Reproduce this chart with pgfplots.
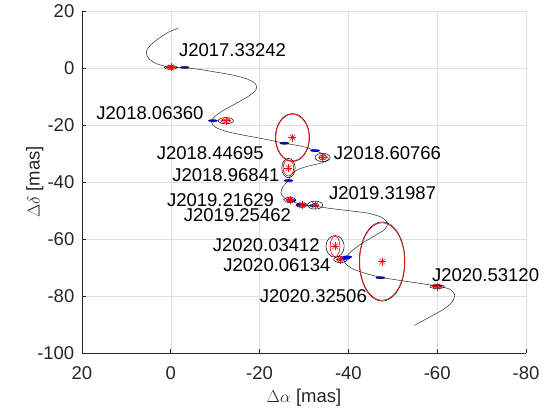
\documentclass[border=0pt]{standalone}
\usepackage{fontspec}
\setmainfont{Liberation Sans}
\usepackage{pgfplots}
\pgfplotsset{compat=1.18}
\usepackage{pgfplotstable}

\definecolor{axgray}{RGB}{38,38,38}
\definecolor{gridgray}{RGB}{224,224,224}
\definecolor{mblue}{RGB}{0,0,255}
\definecolor{mred}{RGB}{255,0,0}

\newcommand{\lblfont}{\fontsize{18.5bp}{22bp}\selectfont}

\pgfdeclareplotmark{ell}{%
  \pgfpathellipse{\pgfpointorigin}{\pgfpoint{\rxx bp}{0bp}}{\pgfpoint{0bp}{\ryy bp}}%
  \pgfusepathqstroke}
\pgfdeclareplotmark{ellf}{%
  \pgfpathellipse{\pgfpointorigin}{\pgfpoint{4.6bp}{0bp}}{\pgfpoint{0bp}{1.2bp}}%
  \pgfusepathqfillstroke}

% observations: red centre, red error ellipse, black ellipse
\pgfplotstableread{
x      y      rxr   ryr   rxk   ryk
0.0    0.2    1.0   0.4   1.5   0.65
-12.4  -18.5  1.1   0.6   1.7   1.1
-27.4  -24.4  3.75  8.2   3.85  8.4
-34.2  -31.4  0.9   0.8   1.7   1.45
-26.5  -35.1  1.2   2.8   1.5   3.4
-26.8  -46.3  0.8   0.5   1.4   0.9
-29.5  -48.1  0.9   0.7   1.3   0.8
-32.5  -48.1  0.8   0.6   1.7   1.4
-37.0  -62.6  1.1   3.6   2.05  3.8
-38.2  -67.2  0.9   0.6   1.5   1.05
-47.6  -67.9  5.05  13.6  5.15  13.9
-60.0  -76.7  1.1   0.5   1.6   0.7
}\obs

% model positions
\pgfplotstableread{
x      y
-3.1   0.2
-9.5   -18.5
-25.6  -26.4
-32.5  -29.0
-26.5  -39.5
-27.1  -46.5
-29.2  -48.1
-32.2  -48.3
-39.8  -66.3
-39.3  -66.8
-47.2  -73.6
-60.0  -76.5
}\model

\begin{document}
\begin{tikzpicture}
\begin{axis}[
  name=ax,
  scale only axis, width=444bp, height=342bp,
  xmin=-80, xmax=20, ymin=-100, ymax=20,
  x dir=reverse,
  xtick={-80,-60,...,20}, ytick={-100,-80,...,20},
  axis x line*=bottom, axis y line*=left,
  grid=major, major grid style={draw=gridgray, line width=0.5bp},
  axis line style={draw=axgray, line width=0.6bp},
  major tick length=4.5bp, tick style={draw=axgray, line width=0.6bp},
  tick align=inside,
  /pgf/number format/assume math mode=true,
  ticklabel style={font=\lblfont, text=axgray, inner sep=0pt},
  xticklabel style={anchor=north, yshift=-13bp},
  yticklabel style={anchor=east, xshift=-7.5bp},
  xlabel={$\Delta\alpha$ [mas]}, ylabel={$\Delta\delta$ [mas]},
  xlabel style={at={(axis description cs:0.5,-0.1316)}, anchor=center, font=\lblfont, text=axgray},
  ylabel style={at={(axis description cs:-0.106,0.5)}, anchor=center, font=\lblfont, text=axgray},
  clip=false,
]
% apparent track
\addplot[black!85, line width=0.5bp, smooth, tension=0.5, mark=none] coordinates {
(-1.6,13.9) (0.5,12.6) (2.5,10.6) (4.4,8.3) (5.5,5.8) (5.0,3.4) (3.2,1.5) (0.0,0.2)
(-3.1,0.1) (-6.5,-0.5) (-10.0,-1.4) (-14.0,-2.5) (-17.3,-3.9) (-19.1,-5.6) (-19.2,-7.6)
(-17.6,-9.8) (-14.6,-12.5) (-11.5,-15.2) (-9.6,-17.5) (-9.2,-19.2) (-10.2,-20.9)
(-12.6,-22.3) (-16.5,-23.6) (-21.0,-24.9) (-25.6,-26.4) (-29.6,-27.5) (-32.5,-29.0)
(-34.8,-30.6) (-35.5,-32.0) (-34.0,-33.3) (-31.0,-34.4) (-28.4,-35.8) (-27.0,-37.6)
(-26.5,-39.5) (-25.3,-41.6) (-24.8,-43.7) (-25.5,-45.5) (-27.0,-46.5) (-29.2,-47.8)
(-32.2,-48.4) (-36.0,-49.3) (-40.3,-50.1) (-44.3,-50.9) (-47.3,-52.3) (-48.8,-54.4)
(-48.2,-56.6) (-46.0,-58.8) (-43.3,-61.3) (-41.0,-63.9) (-39.5,-66.2) (-39.1,-68.0)
(-40.5,-70.1) (-43.5,-71.9) (-47.2,-73.4) (-51.5,-74.5) (-55.8,-75.5) (-60.0,-76.5)
(-62.8,-77.6) (-63.9,-79.5) (-63.4,-82.0) (-61.5,-84.6) (-58.5,-87.2) (-54.9,-90.3)
};
% black ellipses
\addplot[scatter, only marks, mark=ell,
  scatter/use mapped color={draw=black},
  mark options={line width=0.5bp},
  visualization depends on={\thisrow{rxk}*4.44\as\rxx},
  visualization depends on={\thisrow{ryk}*2.85\as\ryy}]
  table[x=x,y=y]{\obs};
% red ellipses
\addplot[scatter, only marks, mark=ell,
  scatter/use mapped color={draw=mred},
  mark options={line width=0.6bp},
  visualization depends on={\thisrow{rxr}*4.44\as\rxx},
  visualization depends on={\thisrow{ryr}*2.85\as\ryy}]
  table[x=x,y=y]{\obs};
% model positions
\addplot[only marks, mark=ellf, mark options={draw=black, fill=mblue, line width=0.25bp}]
  table[x=x,y=y]{\model};
% observed positions
\addplot[only marks, mark=+, mark size=4bp, mark options={draw=mred, line width=0.5bp}]
  table[x=x,y=y]{\obs};
\addplot[only marks, mark=x, mark size=4bp, mark options={draw=mred, line width=0.5bp}]
  table[x=x,y=y]{\obs};
% epoch labels
\node[font=\lblfont, inner sep=0pt] at (axis cs:-13.9,6.4) {J2017.33242};
\node[font=\lblfont, inner sep=0pt] at (axis cs:4.7,-15.8) {J2018.06360};
\node[font=\lblfont, inner sep=0pt] at (axis cs:-8.9,-29.8) {J2018.44695};
\node[font=\lblfont, inner sep=0pt] at (axis cs:-48.8,-29.9) {J2018.60766};
\node[font=\lblfont, inner sep=0pt] at (axis cs:-12.4,-37.5) {J2018.96841};
\node[font=\lblfont, inner sep=0pt] at (axis cs:-47.7,-44.0) {J2019.31987};
\node[font=\lblfont, inner sep=0pt] at (axis cs:-11.2,-46.2) {J2019.21629};
\node[font=\lblfont, inner sep=0pt] at (axis cs:-15.0,-51.8) {J2019.25462};
\node[font=\lblfont, inner sep=0pt] at (axis cs:-21.5,-62.1) {J2020.03412};
\node[font=\lblfont, inner sep=0pt] at (axis cs:-23.9,-69.0) {J2020.06134};
\node[font=\lblfont, inner sep=0pt] at (axis cs:-32.1,-80.1) {J2020.32506};
\node[font=\lblfont, inner sep=0pt] at (axis cs:-70.9,-72.7) {J2020.53120};
\end{axis}
\pgfresetboundingbox
\path (ax.south west) ++(-82bp,-57bp) rectangle ++(546bp,410bp);
\end{tikzpicture}
\end{document}
